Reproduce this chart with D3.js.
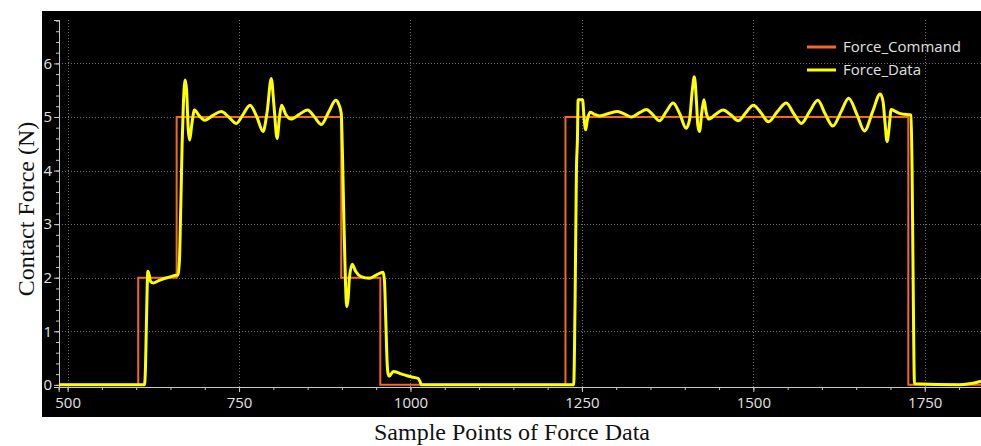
<!DOCTYPE html>
<html>
<head>
<meta charset="utf-8">
<script src="https://cdn.jsdelivr.net/npm/d3@7"></script>
<style>
  body { margin: 0; background: #fff; }
  svg { display: block; }
</style>
</head>
<body>
<div id="chart"></div>
<script>
// command steps (step-after)
var cmdX = [487, 603, 659, 899, 956, 1226, 1726, 1832];
var cmdY = [0, 2, 5, 2, 0, 5, 0, 0];

var dataX = [487, 612, 613.5, 615, 617, 619, 621, 625, 632, 640, 648, 656, 661, 663, 665, 667, 669, 671.5, 673.5, 676, 678,
  681, 685, 692, 700, 712, 724, 735, 746, 756, 766, 776, 785, 791, 797, 801, 805.5, 809, 812, 818, 826, 838, 850, 860, 870,
  881, 891, 895, 899, 901, 903, 905, 907, 909, 911, 915, 920, 928, 940, 950, 960, 962, 964, 966, 967.5, 969, 975, 985, 995,
  1005, 1011, 1014, 1016, 1238, 1240, 1242, 1243.5, 1244.5, 1251, 1253, 1255.5, 1258, 1262, 1268, 1276, 1290, 1302, 1313,
  1322, 1334, 1344, 1353, 1363, 1373, 1383, 1393, 1402, 1407, 1411, 1414, 1417, 1419, 1421.5, 1425, 1428, 1431, 1435, 1445,
  1456, 1467, 1478, 1489, 1500, 1511, 1522, 1535, 1548, 1559, 1570, 1582, 1594, 1605, 1616, 1628, 1639, 1651, 1662, 1674,
  1685, 1689, 1692, 1695, 1698, 1701, 1705, 1712, 1720, 1728, 1730, 1731.5, 1733, 1735, 1800, 1815, 1832];
var dataY = [0, 0, 0.3, 1.2, 2.12, 2.05, 1.93, 1.90, 1.94, 1.98, 2.01, 2.04, 2.05, 2.3, 3.3, 4.5, 5.3, 5.69, 5.5, 4.75, 4.57,
  4.85, 5.13, 5.02, 4.94, 5.03, 5.10, 5.0, 4.88, 5.05, 5.22, 5.0, 4.73, 5.1, 5.72, 5.2, 4.60, 5.0, 5.22, 5.05, 4.96, 5.05, 5.13, 5.0, 4.86,
  5.1, 5.31, 5.25, 5.07, 4.2, 3.0, 2.0, 1.46, 1.6, 2.0, 2.25, 2.12, 2.02, 1.99, 2.05, 2.10, 1.95, 1.2, 0.4, 0.2, 0.16, 0.25, 0.21, 0.17,
  0.14, 0.12, 0.06, 0, 0, 1.5, 4.0, 4.6, 5.32, 5.32, 5.0, 4.76, 4.95, 5.09, 5.05, 5.02, 5.07, 5.10, 5.05,
  5.0, 5.08, 5.14, 5.05, 4.93, 5.1, 5.26, 5.05, 4.79, 4.95, 5.5, 5.75, 5.3, 4.85, 4.73, 5.1, 5.32, 5.1, 4.96, 5.05,
  5.13, 5.04, 4.93, 5.08, 5.22, 5.08, 4.91, 5.1, 5.26, 5.06, 4.88, 5.1, 5.31, 5.05, 4.83, 5.1, 5.35, 5.05, 4.74, 5.1,
  5.43, 5.3, 4.9, 4.54, 4.8, 5.14, 5.12, 5.07, 5.05, 5.04, 5.03, 4.0, 2.0, 0.02, 0, 0.02, 0.07];

var xTicks = [500, 750, 1000, 1250, 1500, 1750];
var yTicks = [0, 1, 2, 3, 4, 5, 6];
var seriesNames = ["Force_Command", "Force_Data"];
var seriesColors = ["#f26a22", "#ffff00"];

var width = 981, height = 446;

var svg = d3.select("#chart").append("svg")
    .attr("width", width)
    .attr("height", height);

// black plot panel
svg.append("rect")
    .attr("x", 42).attr("y", 11)
    .attr("width", width - 42).attr("height", 406)
    .attr("fill", "#000");

var x = d3.scaleLinear().domain([487, 1832]).range([58.7, 981]);
var y = d3.scaleLinear().domain([-0.04, 6.81]).range([387, 20]);

svg.append("clipPath").attr("id", "clip")
    .append("rect").attr("x", 59).attr("y", 20).attr("width", 922).attr("height", 367);

// dotted grid
var grid = svg.append("g").attr("stroke", "#707070").attr("stroke-width", 1).attr("stroke-dasharray", "1,2");
grid.selectAll(".gx").data(xTicks).enter().append("line")
    .attr("x1", function(d) { return Math.round(x(d)) + 0.5; })
    .attr("x2", function(d) { return Math.round(x(d)) + 0.5; })
    .attr("y1", 20).attr("y2", 387);
grid.selectAll(".gy").data(yTicks.slice(1)).enter().append("line")
    .attr("y1", function(d) { return Math.round(y(d)) + 0.5; })
    .attr("y2", function(d) { return Math.round(y(d)) + 0.5; })
    .attr("x1", 59).attr("x2", 981);

// axes
var xAxis = d3.axisBottom(x).tickValues(xTicks).tickSize(5).tickPadding(5).tickFormat(d3.format("d"));
var xMinor = d3.axisBottom(x).tickValues(d3.range(500, 1832, 50)).tickSize(3).tickFormat("");
var yAxis = d3.axisLeft(y).tickValues(yTicks).tickSize(5).tickPadding(2).tickFormat(d3.format("d"));
var yMinor = d3.axisLeft(y).tickValues(d3.range(0, 6.81, 0.2)).tickSize(3).tickFormat("");

function styleAxis(g) {
    g.selectAll("path, line").attr("stroke", "#c8c8c8");
    g.selectAll("text").attr("fill", "#e0e0e0")
        .style("font-family", "'Open Sans', 'Noto Sans', sans-serif")
        .style("font-size", "15px");
}

svg.append("g").attr("transform", "translate(0,387)").call(xMinor).call(styleAxis);
svg.append("g").attr("transform", "translate(0,387)").call(xAxis).call(styleAxis);
svg.append("g").attr("transform", "translate(59,0)").call(yMinor).call(styleAxis);
svg.append("g").attr("transform", "translate(59,0)").call(yAxis).call(styleAxis);

// lines
var cmdPts = cmdX.map(function(d, i) { return [d, cmdY[i]]; });
var dataPts = dataX.map(function(d, i) { return [d, dataY[i]]; });

var stepLine = d3.line()
    .x(function(d) { return x(d[0]); })
    .y(function(d) { return y(d[1]); })
    .curve(d3.curveStepAfter);

var smoothLine = d3.line()
    .x(function(d) { return x(d[0]); })
    .y(function(d) { return y(d[1]); })
    .curve(d3.curveMonotoneX);

var plot = svg.append("g").attr("clip-path", "url(#clip)");

plot.append("path")
    .datum(cmdPts)
    .attr("d", stepLine)
    .attr("fill", "none")
    .attr("stroke", seriesColors[0])
    .attr("stroke-width", 2);

plot.append("path")
    .datum(dataPts)
    .attr("d", smoothLine)
    .attr("fill", "none")
    .attr("stroke", seriesColors[1])
    .attr("stroke-width", 3)
    .attr("stroke-linejoin", "round");

// legend
var legend = svg.append("g");
seriesNames.forEach(function(name, i) {
    var ly = 47 + i * 23;
    legend.append("line")
        .attr("x1", 807).attr("x2", 836)
        .attr("y1", ly).attr("y2", ly)
        .attr("stroke", seriesColors[i])
        .attr("stroke-width", 3);
    legend.append("text")
        .attr("x", 843).attr("y", ly + 5)
        .attr("fill", "#e0e0e0")
        .style("font-family", "'Open Sans', 'Noto Sans', sans-serif")
        .style("font-size", "15px")
        .text(name);
});

// axis titles
svg.append("text")
    .attr("x", 512).attr("y", 440)
    .attr("text-anchor", "middle")
    .style("font-family", "'Liberation Serif', 'DejaVu Serif', serif")
    .style("font-size", "24px")
    .attr("fill", "#111")
    .text("Sample Points of Force Data");

svg.append("text")
    .attr("transform", "translate(34,209) rotate(-90)")
    .attr("text-anchor", "middle")
    .style("font-family", "'Liberation Serif', 'DejaVu Serif', serif")
    .style("font-size", "24px")
    .attr("fill", "#111")
    .text("Contact Force (N)");
</script>
</body>
</html>
